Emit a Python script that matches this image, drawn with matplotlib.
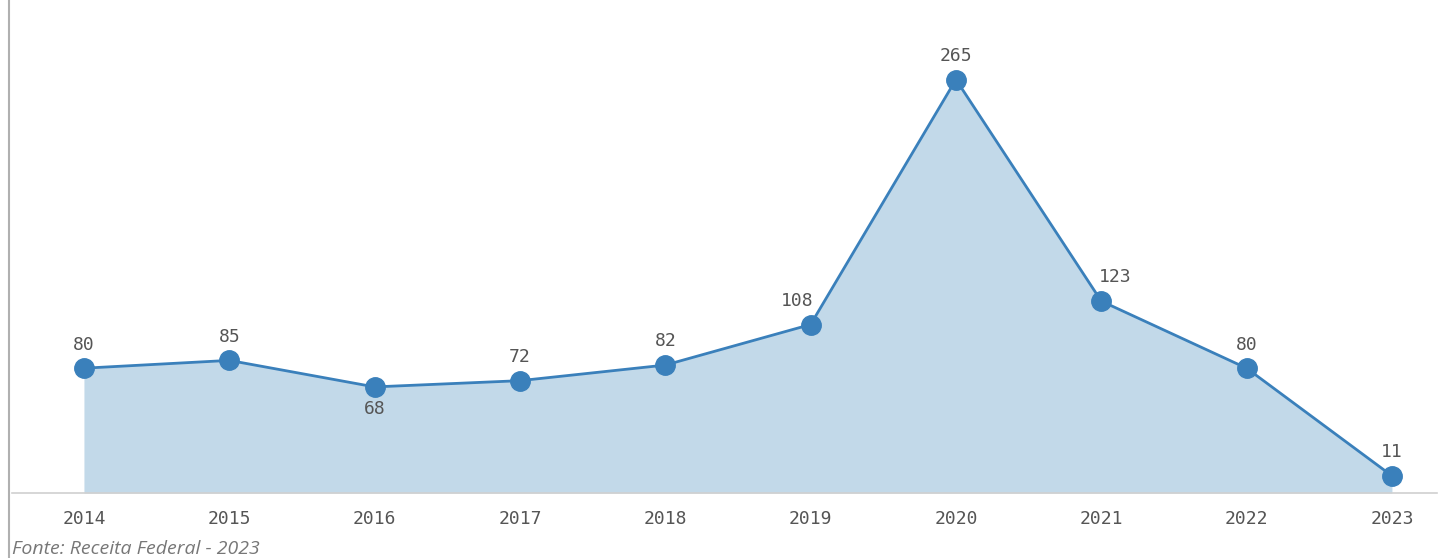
import matplotlib.pyplot as plt
from matplotlib.lines import Line2D

# dados
anos = ['2014', '2015', '2016', '2017', '2018', '2019', '2020', '2021', '2022', '2023']
valores = [80, 85, 68, 72, 82, 108, 265, 123, 80, 11]
rotulo_abaixo = ['2016']
# deslocamento horizontal dos rótulos (px)
desloc_x = {'2019': -13, '2021': 14}

cor_linha = '#3a80bb'
cor_area = '#c2d9e9'

fig = plt.figure(figsize=(14.4, 5.58), dpi=100)
ax = fig.add_axes([12 / 1440, 1 - 493 / 558, (1437 - 12) / 1440, 493 / 558])

x = list(range(len(anos)))
ax.fill_between(x, valores, 0, color=cor_area, linewidth=0)
ax.plot(x, valores, color=cor_linha, linewidth=2, marker='o', markersize=14, zorder=3)

for xi, ano, v in zip(x, anos, valores):
    dx = desloc_x.get(ano, 0) * 0.72
    dy = -16 if ano in rotulo_abaixo else 17
    ax.annotate(str(v), (xi, v), xytext=(dx, dy), textcoords='offset points',
                ha='center', va='center', fontsize=13, color='#555555',
                family='DejaVu Sans Mono')

ax.set_xlim(-0.495, 9.31)
ax.set_ylim(0, 316)
ax.set_xticks(x)
ax.set_xticklabels(anos, family='DejaVu Sans Mono', fontsize=13, color='#555555')
ax.tick_params(axis='x', length=0, pad=12)
ax.set_yticks([])
for lado in ['top', 'right', 'left']:
    ax.spines[lado].set_visible(False)
ax.spines['bottom'].set_color('#d0d0d0')
ax.spines['bottom'].set_linewidth(1.2)

# borda vertical esquerda
fig.add_artist(Line2D([8.5 / 1440, 8.5 / 1440], [0, 1], color='#b0b0b0', linewidth=1.5))

fig.text(12 / 1440, 1 - 549 / 558, 'Fonte: Receita Federal - 2023', fontsize=14,
         style='italic', color='#777777', family='Open Sans', va='center', ha='left')

fig.savefig('out.png', dpi=100)
